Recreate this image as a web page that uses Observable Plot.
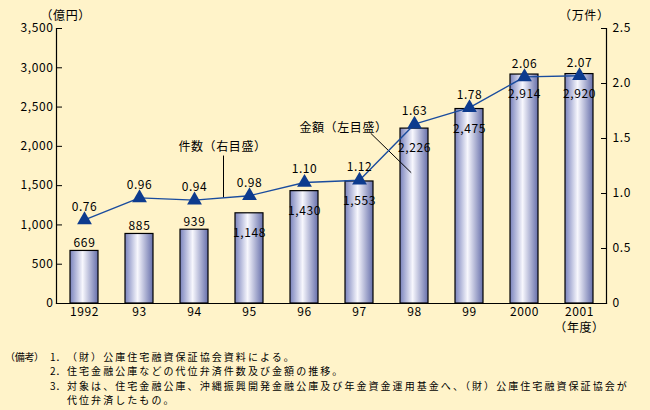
<!DOCTYPE html>
<html><head><meta charset="utf-8">
<script src="https://cdn.jsdelivr.net/npm/d3@7"></script>
<script src="https://cdn.jsdelivr.net/npm/@observablehq/plot@0.6"></script>
<style>
html,body{margin:0;padding:0;background:#fff3c9;}
#wrap{position:relative;width:650px;height:410px;overflow:hidden;font-family:"Noto Sans CJK JP",sans-serif;color:#000;}
#wrap svg{position:absolute;left:0;top:0;}
#wrap svg text{letter-spacing:0.6px;}
.note{position:absolute;font-size:10px;line-height:14.5px;white-space:nowrap;letter-spacing:2.06px;}
.note.head{letter-spacing:-0.3px;}
.note.num{letter-spacing:0;}
</style></head><body><div id="wrap"></div>
<script>
const years = ["1992","93","94","95","96","97","98","99","2000","2001"];
const amounts = [669, 885, 939, 1148, 1430, 1553, 2226, 2475, 2914, 2920];
const counts = [0.76, 0.96, 0.94, 0.98, 1.10, 1.12, 1.63, 1.78, 2.06, 2.07];
const leftTicks = [0, 500, 1000, 1500, 2000, 2500, 3000, 3500];
const rightTicks = [0, 0.5, 1.0, 1.5, 2.0, 2.5];
const leftUnit = "（億円）";
const rightUnit = "（万件）";
const yearUnit = "（年度）";
const countLabel = "件数（右目盛）";
const amountLabel = "金額（左目盛）";
const noteHead = "（備考）";
const noteNums = ["1．", "2．", "3．", ""];
const noteTexts = [
  "（財）公庫住宅融資保証協会資料による。",
  "住宅金融公庫などの代位弁済件数及び金額の推移。",
  "対象は、住宅金融公庫、沖縄振興開発金融公庫及び年金資金運用基金へ、（財）公庫住宅融資保証協会が",
  "代位弁済したもの。"
];

const K = 3500 / 2.5; // right-axis units -> left-axis units
const data = years.map((y, i) => ({year: y, amount: amounts[i], count: counts[i]}));
const fmt = d3.format(",");

const chart = Plot.plot({
  width: 650, height: 345,
  marginLeft: 56, marginRight: 44, marginTop: 28, marginBottom: 42,
  style: {background: "transparent", fontFamily: "'Noto Sans CJK JP', sans-serif", fontSize: "12px", color: "#000"},
  x: {domain: years, paddingInner: 0.5, paddingOuter: 0.25, label: null},
  y: {domain: [0, 3500], label: null},
  marks: [
    Plot.barY(data, {x: "year", y: "amount", fill: "url(#barGrad)", stroke: "#000", strokeWidth: 1.2}),
    Plot.frame({anchor: "left", stroke: "#000", strokeWidth: 1.2}),
    Plot.frame({anchor: "right", stroke: "#000", strokeWidth: 1.2}),
    Plot.frame({anchor: "bottom", stroke: "#000", strokeWidth: 1.2}),
    Plot.axisY(leftTicks, {anchor: "left", tickSize: -6, tickPadding: 9, tickFormat: fmt, label: null}),
    Plot.axisY(rightTicks.map(v => v * K), {anchor: "right", tickSize: -6, tickPadding: 12,
      tickFormat: d => d === 0 ? "0" : (d / K).toFixed(1), label: null}),
    Plot.axisX({anchor: "bottom", tickSize: 0, tickPadding: 4, label: null}),
    Plot.text([yearUnit], {x: () => "2001", y: () => 0, dy: 25, text: d => d}),
    Plot.text([leftUnit], {frameAnchor: "top-left", dx: -16, dy: -17.5, text: d => d}),
    Plot.text([rightUnit], {frameAnchor: "top-right", dx: 3, dy: -17.5, text: d => d}),
    // amount labels
    Plot.text(data.filter(d => d.amount < 1000), {x: "year", y: "amount", text: d => fmt(d.amount), dy: -8}),
    Plot.text(data.filter(d => d.amount >= 1000), {x: "year", y: "amount", text: d => fmt(d.amount), dy: 20}),
    // annotation leaders
    Plot.link([0], {x1: () => "94", x2: () => "94", y1: () => 1.345 * K, y2: () => 0.962 * K, dx: 29, stroke: "#000", strokeWidth: 1}),
    Plot.arrow([0], {x1: () => "97", x2: () => "98", y1: () => 2306, y2: () => 1624,
      insetStart: 16, insetEnd: 5, headLength: 0, bend: 0, stroke: "#000", strokeWidth: 1}),
    Plot.text([countLabel], {x: () => "94", y: () => 1.418 * K, dx: 28, text: d => d, fontSize: 12}),
    Plot.text([amountLabel], {x: () => "97", y: () => 2227, dx: -16, text: d => d, fontSize: 12}),
    // count line
    Plot.line(data, {x: "year", y: d => d.count * K, stroke: "#1a4c9e", strokeWidth: 1.4}),
    Plot.dot(data, {x: "year", y: d => d.count * K, symbol: "triangle", r: 5.5, fill: "#0d3b8e", stroke: "none"}),
    Plot.text(data, {x: "year", y: d => d.count * K, text: d => d.count.toFixed(2), dy: -13})
  ]
});

// gradient definition for bars
const svgNS = "http://www.w3.org/2000/svg";
const defs = document.createElementNS(svgNS, "defs");
const grad = document.createElementNS(svgNS, "linearGradient");
grad.setAttribute("id", "barGrad");
grad.setAttribute("x1", "0"); grad.setAttribute("x2", "1");
grad.setAttribute("y1", "0"); grad.setAttribute("y2", "0");
[["0%", "#7a83bd"], ["45%", "#f7f7fd"], ["100%", "#6770ab"]].forEach(([o, c]) => {
  const s = document.createElementNS(svgNS, "stop");
  s.setAttribute("offset", o); s.setAttribute("stop-color", c);
  grad.appendChild(s);
});
defs.appendChild(grad);
chart.insertBefore(defs, chart.firstChild);

const wrap = document.getElementById("wrap");
wrap.appendChild(chart);

// notes (caption below the chart)
const lineTops = [349.75, 364.25, 378.75, 393.25];
function addNote(text, left, top, cls) {
  const el = document.createElement("div");
  el.className = "note" + (cls ? " " + cls : "");
  el.style.left = left + "px";
  el.style.top = top + "px";
  el.textContent = text;
  wrap.appendChild(el);
}
addNote(noteHead, 5, lineTops[0], "head");
noteTexts.forEach((t, i) => {
  if (noteNums[i]) addNote(noteNums[i], 50, lineTops[i], "num");
  addNote(t, 67, lineTops[i]);
});
</script></body></html>
